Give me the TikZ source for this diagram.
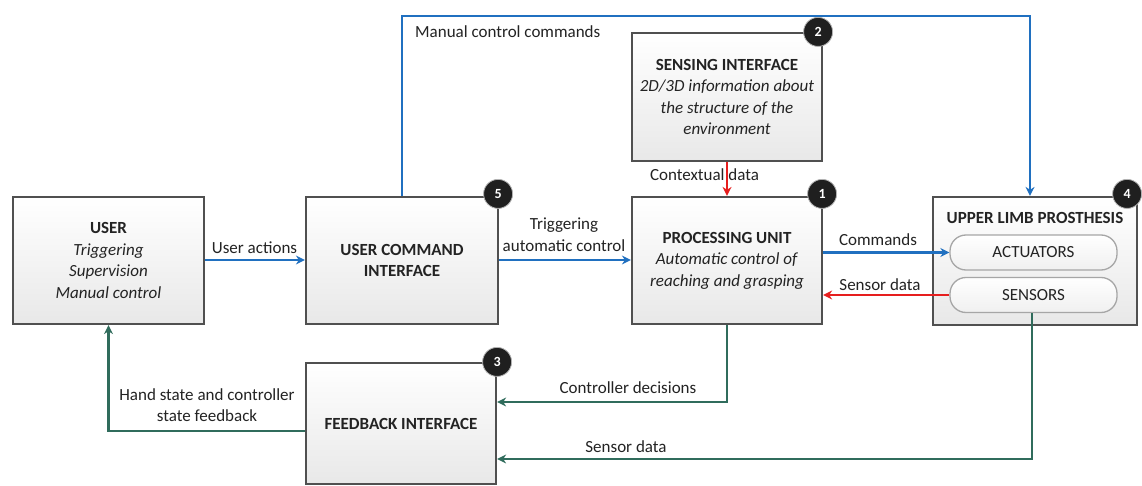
\documentclass[tikz,border=0pt]{standalone}
\usepackage{fontspec}
\setmainfont{Carlito}
\usetikzlibrary{arrows.meta,shapes.geometric}
\definecolor{cblue}{RGB}{32,112,192}
\definecolor{cred}{RGB}{230,30,30}
\definecolor{cgreen}{RGB}{48,108,92}
\definecolor{cborder}{RGB}{80,80,80}
\definecolor{ctext}{RGB}{35,35,35}
\tikzset{
  box/.style={draw=cborder, line width=2.2pt, top color=white, bottom color=gray!18,
    minimum width=#1, align=center, inner sep=0pt, text=ctext},
  pill/.style={draw=gray!70, line width=1.3pt, top color=white, bottom color=gray!12,
    rounded corners=16pt, minimum width=167pt, minimum height=35pt, inner sep=0pt, text=ctext},
  badge/.style={circle, fill=black!88, draw=gray!60, line width=0.8pt, text=white,
    font=\fontsize{14}{15}\selectfont\bfseries, minimum size=29pt, inner sep=0pt},
  lbl/.style={text=ctext, align=center, inner sep=0pt},
  bluearr/.style={draw=cblue, line width=2.8pt, -{Stealth[length=9pt,width=9pt]}},
  redarr/.style={draw=cred, line width=2.8pt, -{Stealth[length=9pt,width=9pt]}},
  greenarr/.style={draw=cgreen, line width=2.8pt, -{Stealth[length=9pt,width=9pt]}},
}
\begin{document}
\begin{tikzpicture}[x=1pt,y=-1pt,font=\fontsize{17}{21.5}\selectfont]
\useasboundingbox (0,0) rectangle (1142,486);
\fill[white] (0,0) rectangle (1142,486);

% boxes
\node[box=191pt, minimum height=127pt] (user) at (108.5,260.5)
  {\textbf{USER}\\\textit{Triggering}\\\textit{Supervision}\\\textit{Manual control}};
\node[box=192pt, minimum height=127pt] (uci) at (402,260.5)
  {\textbf{USER COMMAND}\\\textbf{INTERFACE}};
\node[box=190pt, minimum height=128pt] (sens) at (727,97)
  {\textbf{SENSING INTERFACE}\\\textit{2D/3D information about}\\\textit{the structure of the}\\\textit{environment}};
\node[box=190pt, minimum height=127pt] (pu) at (727,260.5)
  {\textbf{PROCESSING UNIT}\\\textit{Automatic control of}\\\textit{reaching and grasping}};
\node[box=204pt, minimum height=128pt] (ulp) at (1035,261) {};
\node[lbl, font=\fontsize{17}{21.5}\selectfont\bfseries] (ulpt) at (1035,218) {UPPER LIMB PROSTHESIS};
\node[pill] (act) at (1033.5,252.5) {ACTUATORS};
\node[pill] (sen) at (1033.5,295) {SENSORS};
\node[box=190pt, minimum height=121pt] (fb) at (401,423.5)
  {\textbf{FEEDBACK INTERFACE}};

% badges
\node[badge] (b1) at ([xshift=-1pt,yshift=2pt]pu.north east) {1};
\node[badge] (b2) at ([xshift=-5pt,yshift=0pt]sens.north east) {2};
\node[badge] (b3) at ([xshift=0pt,yshift=0pt]fb.north east) {3};
\node[badge] (b4) at ([xshift=-11pt,yshift=2pt]ulp.north east) {4};
\node[badge] (b5) at ([xshift=-1pt,yshift=2pt]uci.north east) {5};

% coordinates
\coordinate (topL) at (402,16);
\coordinate (topR) at (1030,16);
\coordinate (fbL) at (fb.west |- 0,431);
\coordinate (fbC) at (fb.east |- 0,402);
\coordinate (fbS) at (fb.east |- 0,459);
\coordinate (cdC) at (pu.south |- 0,402);
\coordinate (sdC) at (1032,459);
\coordinate (usB) at (user.south |- 0,431);

% connectors
\draw[bluearr] (user.east |- 0,260) -- (uci.west |- 0,260);
\draw[bluearr] (uci.east |- 0,260) -- (pu.west |- 0,260);
\draw[redarr] (sens.south) -- (pu.north);
\draw[bluearr] (pu.east |- act.west) -- (act.west);
\draw[redarr] (sen.west) -- (pu.east |- sen.west);
\draw[bluearr] (uci.north) -- (topL) -- (topR) -- (topR |- ulp.north);
\draw[greenarr] (pu.south) -- (cdC) -- (fbC);
\draw[greenarr] (sen.south -| sdC) -- (sdC) -- (fbS);
\draw[greenarr] (fbL) -- (usB) -- (user.south);

% labels
\node[lbl] (l1) at (254.5,248) {User actions};
\node[lbl] (l2) at (564,234.5) {Triggering\\automatic control};
\node[lbl] (l3) at (704.5,175) {Contextual data};
\node[lbl] (l4) at (878,240) {Commands};
\node[lbl] (l5) at (880,285) {Sensor data};
\node[lbl, anchor=west] (l6) at (415,32) {Manual control commands};
\node[lbl] (l7) at (207,405) {Hand state and controller\\state feedback};
\node[lbl] (l8) at (628,388) {Controller decisions};
\node[lbl] (l9) at (626,447) {Sensor data};
\end{tikzpicture}
\end{document}
